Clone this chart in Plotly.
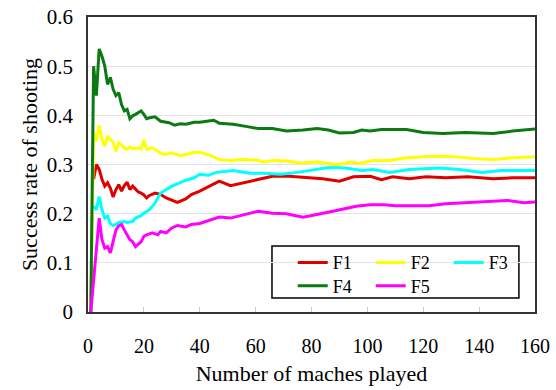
import plotly.graph_objects as go

# ---- data ----
f1_x = [2, 3, 4, 5, 6, 7, 8, 9, 10, 11, 12, 13, 14, 15, 16, 17, 18, 19, 20, 21, 22, 24, 26, 28, 30, 32, 35, 37, 40, 44, 47, 51, 56, 60, 66, 72, 78, 84, 90, 95, 101, 105, 109, 115, 121, 128, 136, 145, 152, 160]
f1_y = [0.27, 0.30, 0.29, 0.27, 0.256, 0.263, 0.252, 0.234, 0.249, 0.259, 0.246, 0.257, 0.264, 0.249, 0.256, 0.25, 0.244, 0.242, 0.238, 0.232, 0.237, 0.242, 0.239, 0.232, 0.227, 0.223, 0.230, 0.239, 0.246, 0.257, 0.266, 0.257, 0.263, 0.269, 0.276, 0.276, 0.273, 0.271, 0.266, 0.275, 0.276, 0.269, 0.275, 0.271, 0.275, 0.273, 0.275, 0.271, 0.273, 0.273]

f2_x = [1, 2, 3, 4, 5, 6, 7, 8, 9, 10, 11, 12, 13, 14, 15, 16, 17, 18, 19, 20, 21, 23, 25, 27, 30, 33, 36, 38, 40, 44, 47, 51, 55, 60, 63, 66, 71, 76, 82, 85, 89, 94, 97, 102, 108, 113, 120, 126, 131, 138, 145, 151, 160]
f2_y = [0.0, 0.365, 0.348, 0.38, 0.351, 0.337, 0.358, 0.351, 0.345, 0.327, 0.344, 0.34, 0.334, 0.331, 0.336, 0.332, 0.333, 0.334, 0.331, 0.350, 0.331, 0.334, 0.327, 0.320, 0.324, 0.318, 0.322, 0.325, 0.325, 0.318, 0.310, 0.308, 0.310, 0.309, 0.305, 0.308, 0.307, 0.303, 0.305, 0.303, 0.300, 0.305, 0.302, 0.308, 0.308, 0.313, 0.316, 0.317, 0.316, 0.312, 0.310, 0.313, 0.316]

f3_x = [2, 3, 4, 5, 6, 7, 8, 9, 10, 11, 13, 14, 16, 17, 19, 20, 22, 24, 26, 28, 30, 33, 35, 38, 40, 43, 46, 52, 58, 63, 69, 75, 80, 86, 92, 98, 102, 108, 115, 126, 133, 141, 148, 160]
f3_y = [0.215, 0.208, 0.235, 0.208, 0.191, 0.195, 0.18, 0.176, 0.178, 0.182, 0.184, 0.182, 0.184, 0.191, 0.196, 0.201, 0.208, 0.222, 0.242, 0.249, 0.256, 0.263, 0.268, 0.273, 0.280, 0.278, 0.284, 0.288, 0.282, 0.282, 0.280, 0.284, 0.288, 0.294, 0.293, 0.288, 0.290, 0.284, 0.290, 0.293, 0.290, 0.284, 0.288, 0.288]

f4_x = [1, 2, 3, 4, 5, 6, 7, 8, 9, 10, 11, 12, 13, 14, 15, 16, 17, 18, 19, 20, 21, 22, 24, 26, 29, 31, 33, 35, 38, 40, 42, 45, 47, 52, 57, 61, 66, 71, 77, 82, 86, 90, 95, 98, 101, 105, 110, 114, 120, 127, 135, 145, 152, 160]
f4_y = [0.0, 0.50, 0.44, 0.535, 0.52, 0.50, 0.463, 0.477, 0.453, 0.44, 0.446, 0.422, 0.409, 0.412, 0.393, 0.399, 0.402, 0.405, 0.409, 0.402, 0.393, 0.395, 0.397, 0.388, 0.385, 0.380, 0.383, 0.382, 0.386, 0.386, 0.388, 0.390, 0.384, 0.382, 0.377, 0.373, 0.373, 0.368, 0.370, 0.373, 0.370, 0.364, 0.365, 0.370, 0.368, 0.371, 0.371, 0.371, 0.365, 0.363, 0.365, 0.363, 0.368, 0.372]

f5_x = [1, 4, 5, 6, 7, 8, 9, 10, 11, 12, 13, 14, 15, 16, 17, 18, 19, 20, 21, 23, 25, 26, 28, 30, 32, 35, 37, 40, 43, 47, 51, 56, 61, 66, 71, 77, 82, 86, 91, 96, 101, 106, 110, 116, 122, 128, 134, 141, 150, 156, 160]
f5_y = [0.0, 0.191, 0.147, 0.130, 0.133, 0.120, 0.143, 0.167, 0.175, 0.178, 0.167, 0.157, 0.147, 0.143, 0.133, 0.138, 0.143, 0.154, 0.157, 0.161, 0.157, 0.164, 0.161, 0.171, 0.176, 0.173, 0.178, 0.180, 0.186, 0.193, 0.191, 0.198, 0.205, 0.201, 0.200, 0.193, 0.198, 0.203, 0.209, 0.215, 0.218, 0.218, 0.216, 0.216, 0.216, 0.220, 0.222, 0.225, 0.227, 0.222, 0.224]

names = ["F1", "F2", "F3", "F4", "F5"]
colors = ["#e00000", "#ffff00", "#00ffff", "#0a7a12", "#ff00ff"]
legend_ids = ["legend", "legend", "legend", "legend2", "legend2"]
xs = [f1_x, f2_x, f3_x, f4_x, f5_x]
ys = [f1_y, f2_y, f3_y, f4_y, f5_y]

x_ticks = [0, 20, 40, 60, 80, 100, 120, 140, 160]
y_ticks = [0, 0.1, 0.2, 0.3, 0.4, 0.5, 0.6]
y_tick_text = ["0", "0.1", "0.2", "0.3", "0.4", "0.5", "0.6"]

FONT = "Times New Roman"

fig = go.Figure()
for n, c, lg, x, y in zip(names, colors, legend_ids, xs, ys):
    fig.add_trace(go.Scatter(x=x, y=y, mode="lines", name=n, legend=lg,
                             line=dict(color=c, width=3)))

leg_common = dict(
    orientation="h", xanchor="left", yanchor="middle",
    bgcolor="rgba(0,0,0,0)", borderwidth=0,
    font=dict(family=FONT, size=18, color="black"),
    entrywidth=33, entrywidthmode="pixels", itemclick=False,
)

fig.update_layout(
    width=556, height=390,
    margin=dict(l=88, r=21, t=17, b=78, autoexpand=False),
    plot_bgcolor="white", paper_bgcolor="white",
    font=dict(family=FONT, size=20, color="black"),
    showlegend=True,
    legend=dict(x=0.458, y=0.167, **leg_common),
    legend2=dict(x=0.458, y=0.088, **leg_common),
    shapes=[dict(type="rect", xref="paper", yref="paper",
                 x0=0.4116, x1=0.964, y0=0.0475, y1=0.2237,
                 line=dict(color="black", width=1.5), fillcolor="white",
                 layer="below")],
)
fig.update_xaxes(
    range=[0, 160], tickvals=x_ticks, ticktext=[str(v) for v in x_ticks],
    showgrid=False, zeroline=False,
    showline=True, linecolor="#333333", linewidth=1.5, mirror=True,
    ticks="inside", ticklen=5, tickcolor="#c8c8c8",
    ticklabelstandoff=15,
    tickfont=dict(family=FONT, size=20),
    title=dict(text="Number of maches played", font=dict(family=FONT, size=22), standoff=10),
)
fig.update_yaxes(
    range=[0, 0.6], tickvals=y_ticks, ticktext=y_tick_text,
    showgrid=True, gridcolor="#e3e3e3", gridwidth=1, zeroline=False,
    showline=True, linecolor="#333333", linewidth=1.5, mirror=True,
    ticks="", ticklabelstandoff=9,
    tickfont=dict(family=FONT, size=21),
    title=dict(text="Success rate of shooting", font=dict(family=FONT, size=22), standoff=3),
)

fig.write_html("out.html")
